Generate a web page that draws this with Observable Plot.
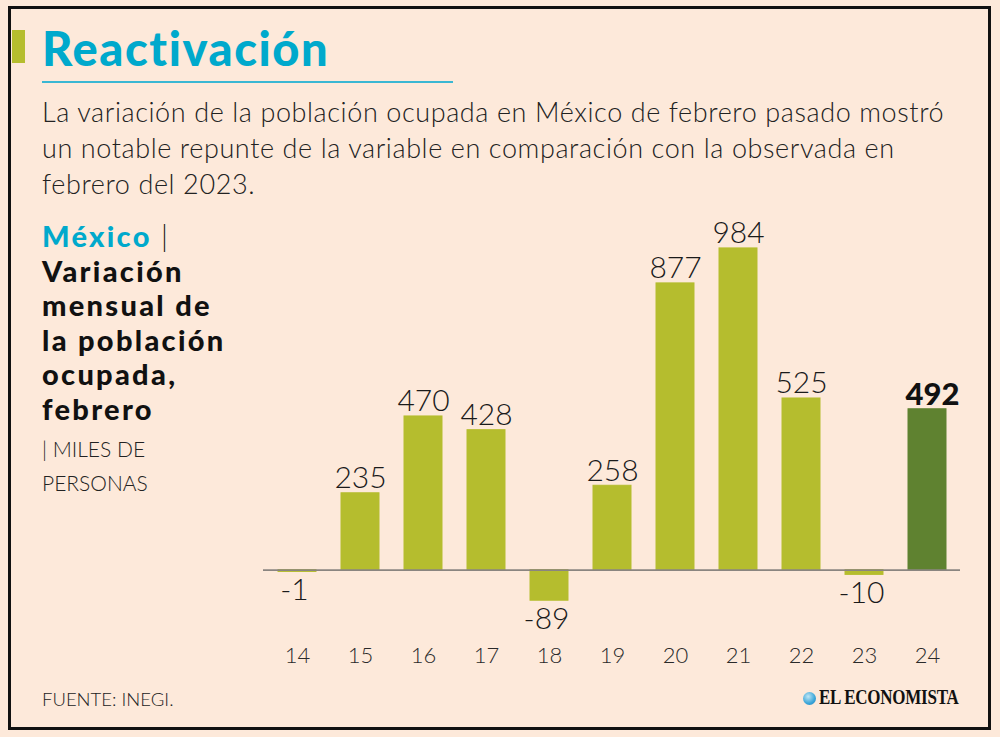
<!DOCTYPE html>
<html>
<head>
<meta charset="utf-8">
<script src="https://cdn.jsdelivr.net/npm/d3@7"></script>
<script src="https://cdn.jsdelivr.net/npm/@observablehq/plot@0.6"></script>
<style>
  html, body { margin: 0; padding: 0; background: #fde9da; }
  #page { position: relative; width: 1000px; height: 737px; background: #fde9da; overflow: hidden; font-family: Lato, "Open Sans", sans-serif; color: #1a1a1a; }
  .abs { position: absolute; white-space: nowrap; }
  #frame { position: absolute; left: 8px; top: 6px; width: 977px; height: 718px; border: 3px solid #111; }
  #chart { position: absolute; left: 0; top: 0; }
</style>
</head>
<body>
<div id="page">
  <div id="frame"></div>
  <div class="abs" style="left:12px;top:30px;width:13px;height:33px;background:#b5bd2e;"></div>
  <div class="abs" style="left:42px;top:20px;font-size:47px;font-weight:900;color:#00a9cc;letter-spacing:1.6px;">Reactivación</div>
  <div class="abs" style="left:42px;top:81px;width:411px;height:1.5px;background:#3ab7d3;"></div>
  <div class="abs" id="sub" style="left:42px;top:94px;font-size:27px;font-weight:300;line-height:36px;color:#222;letter-spacing:0.6px;">
    La variación de la población ocupada en México de febrero pasado mostró<br>
    un notable repunte de la variable en comparación con la observada en<br>
    febrero del 2023.
  </div>
  <div class="abs" style="left:42px;top:219px;font-size:29px;line-height:34.6px;font-weight:900;color:#111;letter-spacing:2.3px;">
    <span style="color:#00a9cc;">México</span> <span style="font-weight:300;">|</span><br>
    Variación<br>mensual de<br>la población<br>ocupada,<br>febrero
  </div>
  <div class="abs" style="left:42px;top:432px;font-size:21px;line-height:34px;font-weight:300;color:#222;">
    | MILES DE<br>PERSONAS
  </div>
  <div class="abs" style="left:42px;top:688px;font-size:18.5px;font-weight:300;color:#222;">FUENTE: INEGI.</div>
  <div class="abs" style="left:803px;top:692px;width:13px;height:13px;border-radius:50%;background:radial-gradient(circle at 40% 35%, #bfe6f5, #3aa5d8 60%, #1f7fbf);"></div>
  <div class="abs" style="left:819px;top:686px;font-family:'Liberation Serif',serif;font-weight:700;font-size:20px;color:#111;transform:scaleX(0.85);transform-origin:left top;letter-spacing:-0.3px;">EL ECONOMISTA</div>
  <div id="chart"></div>
</div>
<script>
const years = ["14", "15", "16", "17", "18", "19", "20", "21", "22", "23", "24"];
const values = [-1, 235, 470, 428, -89, 258, 877, 984, 525, -10, 492];
const highlightYear = "24";

const lightGreen = "#b5bd2e";
const darkGreen = "#5f8230";

const data = years.map((y, i) => ({year: y, value: values[i]}));
const pos = data.filter(d => d.value >= 0);
const posNormal = pos.filter(d => d.year !== highlightYear);
const posHighlight = data.filter(d => d.year === highlightYear);
const neg = data.filter(d => d.value < 0);
const colorOf = d => d.year === highlightYear ? darkGreen : lightGreen;

const chart = Plot.plot({
  width: 1000,
  height: 737,
  marginLeft: 263,
  marginRight: 40,
  marginTop: 210,
  marginBottom: 102,
  style: {background: "transparent", fontFamily: "Lato, 'Open Sans', sans-serif", color: "#222"},
  x: {type: "band", domain: years, paddingInner: 0.4, paddingOuter: 0.23},
  y: {domain: [-200, 1100], axis: null},
  marks: [
    Plot.barY(pos, {x: "year", y: "value", fill: colorOf, stroke: colorOf, strokeWidth: 1}),
    Plot.barY(neg, {x: "year", y: "value", fill: colorOf, stroke: colorOf, strokeWidth: 1, insetBottom: -1.5}),
    Plot.ruleY([0], {stroke: "#8a8580", strokeWidth: 1.6}),
    Plot.text(posNormal, {x: "year", y: "value", text: d => String(d.value), lineAnchor: "bottom", dy: -5, fontSize: 30, fontWeight: 300, fill: "#1a1a1a"}),
    Plot.text(posHighlight, {x: "year", y: "value", text: d => String(d.value), lineAnchor: "bottom", dy: -4, dx: 5, fontSize: 31, fontWeight: 900, fill: "#111"}),
    Plot.text(neg, {x: "year", y: "value", text: d => String(d.value), lineAnchor: "top", dy: 8, dx: -3, fontSize: 30, fontWeight: 300, fill: "#1a1a1a"}),
    Plot.axisX({tickSize: 0, tickPadding: 12, fontSize: 22, fontWeight: 300, fill: "#2a2a2a", label: null})
  ]
});
document.getElementById("chart").appendChild(chart);
</script>
</body>
</html>
